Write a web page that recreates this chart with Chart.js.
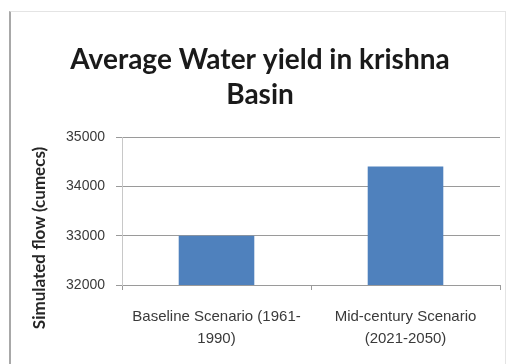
<!DOCTYPE html>
<html>
<head>
<meta charset="utf-8">
<script src="https://cdn.jsdelivr.net/npm/chart.js@4"></script>
<style>
    html, body { margin: 0; padding: 0; background: #fff; }
    #wrap { position: relative; width: 509px; height: 364px; }
    #frame {
        position: absolute; left: 9px; top: 11px; width: 494px; height: 360px;
        border: 1px solid #e4e4e4; border-left: 2px solid #a8a8a8;
        pointer-events: none;
    }
    canvas { position: absolute; left: 0; top: 0; }
</style>
</head>
<body>
<div id="wrap">
    <canvas id="yieldChart" width="509" height="364"></canvas>
    <div id="frame"></div>
</div>
<script>
// Average simulated water yield, Krishna basin
const scenarios = [
    ['Baseline Scenario (1961-', '1990)'],
    ['Mid-century Scenario', '(2021-2050)']
];
const flowValues = [33000, 34400];
const yTicks = [32000, 33000, 34000, 35000];
const yTitle = 'Simulated flow (cumecs)';

// vertical axis title, drawn by hand so it can sit a little below the plot centre
const yTitlePlugin = {
    id: 'yTitle',
    afterDraw(chart) {
        const c = chart.ctx;
        c.save();
        c.translate(40, 238);
        c.rotate(-Math.PI / 2);
        c.font = 'bold 17px Lato';
        c.fillStyle = '#262626';
        c.textAlign = 'center';
        c.textBaseline = 'middle';
        c.fillText(yTitle, 0, 0);
        c.restore();
    }
};

const ctx = document.getElementById('yieldChart');

new Chart(ctx, {
    type: 'bar',
    data: {
        labels: scenarios,
        datasets: [{
            label: 'Simulated flow',
            data: flowValues,
            backgroundColor: '#4f81bd',
            borderWidth: 0,
            barPercentage: 0.4,
            categoryPercentage: 1
        }]
    },
    options: {
        responsive: false,
        animation: false,
        layout: {
            padding: { left: 20, right: 9, top: 42, bottom: 14 }
        },
        plugins: {
            legend: { display: false },
            tooltip: { enabled: false },
            title: {
                display: true,
                text: ['Average Water yield in krishna', 'Basin'],
                color: '#1a1a1a',
                font: { family: 'Lato', size: 28, weight: 'bold', lineHeight: 1.25 },
                padding: { top: 0, bottom: 25 }
            }
        },
        scales: {
            x: {
                afterFit: (scale) => { scale.height = 65; },
                grid: {
                    offset: true,
                    drawOnChartArea: false,
                    tickLength: 5,
                    color: '#9a9a9a'
                },
                border: { color: '#9a9a9a' },
                ticks: {
                    color: '#3a3a3a',
                    font: { family: 'Liberation Sans', size: 15, lineHeight: 1.4667 },
                    maxRotation: 0,
                    padding: 16
                }
            },
            y: {
                min: 32000,
                max: 35000,
                afterBuildTicks: (scale) => {
                    scale.ticks = yTicks.map(v => ({ value: v }));
                },
                afterFit: (scale) => { scale.width = 102; },
                grid: {
                    color: '#9a9a9a',
                    tickLength: 6
                },
                border: { color: '#c8c8c8' },
                ticks: {
                    color: '#3a3a3a',
                    font: { family: 'Liberation Sans', size: 14 },
                    padding: 11,
                    callback: (v) => String(v)
                }
            }
        }
    },
    plugins: [yTitlePlugin]
});
</script>
</body>
</html>
